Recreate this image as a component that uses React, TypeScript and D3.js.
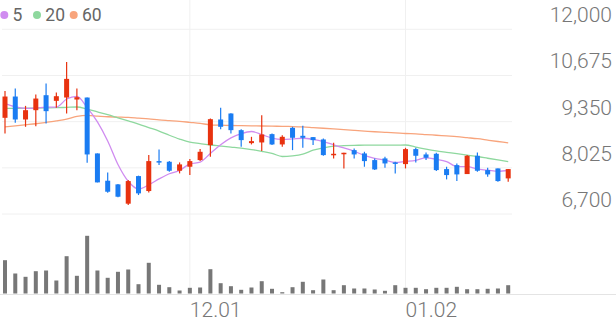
import React from "react";
import * as d3 from "d3";

const opens = [9460, 10071, 9412, 9679, 10109, 9947, 10042, 9985, 10042, 8438, 7655, 7550, 6996, 7788, 7359, 8218, 8199, 7941, 8056, 8247, 8676, 9412, 9584, 9106, 8734, 8753, 8992, 8696, 9173, 8944, 8906, 8839, 8400, 8419, 8533, 8438, 8247, 8295, 8180, 8132, 8562, 8409, 8428, 7989, 8103, 7846, 8371, 7960, 8008, 7722];
const highs = [10233, 10300, 9803, 10128, 10443, 10185, 11064, 10300, 10042, 8438, 7893, 7560, 7674, 7800, 8390, 8552, 8218, 8180, 8275, 8562, 9440, 9746, 9590, 9135, 8915, 9536, 9011, 8963, 9202, 9230, 8906, 8868, 8743, 8457, 8581, 8486, 8295, 8343, 8199, 8600, 8600, 8466, 8457, 8056, 8151, 8390, 8466, 8027, 8008, 7989];
const lows = [9011, 9316, 9202, 9221, 9297, 9746, 9584, 9679, 8170, 7607, 7311, 7180, 6957, 7244, 7320, 8103, 7913, 7865, 7817, 8218, 8342, 9135, 9011, 8629, 8696, 8505, 8677, 8629, 8533, 8600, 8677, 8371, 8295, 8008, 8295, 8056, 7960, 8027, 7865, 8008, 8180, 8247, 7931, 7693, 7645, 7846, 7913, 7769, 7626, 7626];
const closes = [10071, 9412, 9679, 10013, 9651, 10080, 10577, 10052, 8409, 7607, 7339, 7196, 7645, 7292, 8218, 8180, 7941, 8123, 8218, 8485, 9421, 9202, 9106, 8820, 8791, 8982, 8696, 8915, 8887, 8887, 8820, 8390, 8428, 8457, 8409, 8218, 7979, 8151, 8142, 8562, 8371, 8314, 7960, 7817, 7836, 8371, 7941, 7836, 7645, 7989];
const volumes = [333, 200, 167, 223, 230, 130, 373, 177, 577, 230, 157, 217, 240, 93, 307, 87, 63, 30, 57, 60, 243, 103, 73, 37, 60, 123, 47, 13, 63, 117, 33, 140, 33, 83, 50, 50, 40, 27, 83, 57, 57, 43, 57, 57, 67, 43, 43, 47, 50, 83];

const ma5 = [9870, 9780, 9730, 9740, 9765, 9767, 10000, 10075, 9754, 9345, 8797, 8121, 7639, 7416, 7538, 7706, 7855, 7951, 8136, 8189, 8438, 8690, 8886, 9007, 9068, 8980, 8879, 8841, 8854, 8873, 8841, 8780, 8682, 8596, 8501, 8380, 8298, 8243, 8180, 8210, 8241, 8308, 8270, 8205, 8060, 8060, 7985, 7960, 7926, 7956];
const ma20 = [9730, 9730, 9735, 9740, 9745, 9750, 9760, 9770, 9710, 9630, 9550, 9460, 9370, 9280, 9180, 9080, 8960, 8850, 8760, 8720, 8680, 8650, 8620, 8590, 8550, 8500, 8440, 8350, 8370, 8420, 8530, 8600, 8645, 8660, 8670, 8675, 8677, 8677, 8677, 8680, 8620, 8560, 8510, 8470, 8430, 8390, 8350, 8300, 8250, 8200];
const ma60 = [9200, 9230, 9260, 9290, 9330, 9370, 9420, 9500, 9530, 9510, 9490, 9480, 9470, 9450, 9430, 9400, 9380, 9360, 9330, 9300, 9260, 9250, 9240, 9235, 9230, 9225, 9220, 9215, 9210, 9200, 9180, 9160, 9140, 9120, 9100, 9080, 9060, 9045, 9030, 9010, 9000, 8980, 8960, 8940, 8920, 8890, 8860, 8820, 8780, 8740];

const priceTicks = [12000, 10675, 9350, 8025, 6700];
const dateTickIndex = [18, 39];
const dateTickLabels = ["12.01", "01.02"];
const legendLabels = ["5", "20", "60"];
const legendColors = ["#d08cf0", "#8ed89e", "#f8a47c"];

const W = 616;
const H = 321;
const UP = "#e8320f";
const DOWN = "#1a7cf2";

export default function App() {
  const idx = d3.range(closes.length);
  const x = d3.scaleLinear().domain([0, closes.length - 1]).range([5, 508.2]);
  const y = d3.scaleLinear().domain([6700, 12000]).range([214, 29.3]);
  const yv = d3.scaleLinear().domain([0, d3.max(volumes) as number]).range([293.5, 235.8]);
  const line = (vals: number[]) =>
    d3
      .line<number>()
      .x((_, i) => x(i))
      .y((d) => y(d))
      .curve(d3.curveMonotoneX)(vals) as string;

  const font = "Roboto, 'Noto Sans', sans-serif";
  const bodyW = 5;
  const volW = 4;

  return (
    <svg
      width={W}
      height={H}
      style={{ position: "absolute", left: 0, top: 0, background: "#fff" }}
    >
      {/* horizontal grid */}
      {priceTicks.map((t) => (
        <line key={t} x1={2} x2={512} y1={y(t)} y2={y(t)} stroke="#f0f0f0" strokeWidth={1} />
      ))}
      {/* vertical grid */}
      {dateTickIndex.map((i) => (
        <line key={i} x1={x(i)} x2={x(i)} y1={0} y2={294} stroke="#f0f0f0" strokeWidth={1} />
      ))}
      {/* baseline */}
      <line x1={0} x2={W} y1={294.5} y2={294.5} stroke="#e4e4e4" strokeWidth={1.2} />

      {/* MA lines */}
      <path d={line(ma60)} fill="none" stroke={legendColors[2]} strokeWidth={1.3} />
      <path d={line(ma20)} fill="none" stroke={legendColors[1]} strokeWidth={1.3} />
      <path d={line(ma5)} fill="none" stroke={legendColors[0]} strokeWidth={1.3} />

      {/* candles */}
      {idx.map((i) => {
        const up = closes[i] >= opens[i];
        const c = up ? UP : DOWN;
        const top = y(Math.max(opens[i], closes[i]));
        const bot = y(Math.min(opens[i], closes[i]));
        return (
          <g key={i}>
            <line x1={x(i)} x2={x(i)} y1={y(highs[i])} y2={y(lows[i])} stroke={c} strokeWidth={1.2} />
            <rect x={x(i) - bodyW / 2} y={top} width={bodyW} height={Math.max(1.5, bot - top)} fill={c} />
          </g>
        );
      })}

      {/* volume */}
      {idx.map((i) => (
        <rect
          key={i}
          x={x(i) - volW / 2}
          y={yv(volumes[i])}
          width={volW}
          height={yv(0) - yv(volumes[i])}
          fill="#777777"
        />
      ))}

      {/* price labels */}
      {priceTicks.map((t) => (
        <text
          key={t}
          x={612}
          y={y(t) - 7}
          textAnchor="end"
          fontFamily={font}
          fontWeight={300}
          fontSize={21}
          fill="#777"
        >
          {d3.format(",")(t)}
        </text>
      ))}

      {/* date labels */}
      {dateTickIndex.map((i, k) => (
        <text
          key={i}
          x={x(i)}
          y={317}
          fontFamily={font}
          fontWeight={300}
          fontSize={21}
          fill="#777"
        >
          {dateTickLabels[k]}
        </text>
      ))}

      {/* legend */}
      {legendLabels.map((l, k) => {
        const cx = [4.3, 37, 73.7][k];
        return (
          <g key={l}>
            <circle cx={cx} cy={15} r={4} fill={legendColors[k]} />
            <text x={cx + 8.3} y={21} fontFamily={font} fontSize={17.5} fill="#666">
              {l}
            </text>
          </g>
        );
      })}
    </svg>
  );
}
